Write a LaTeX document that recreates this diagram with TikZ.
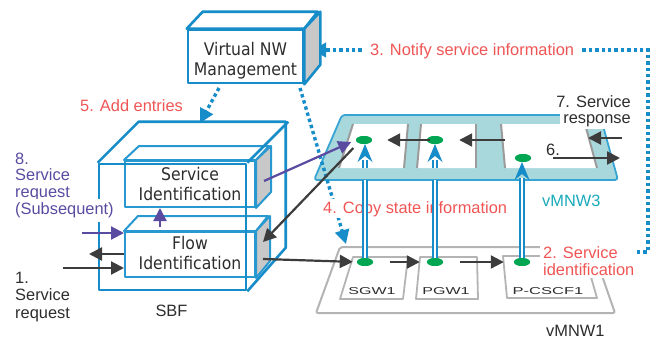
\documentclass[tikz,border=0pt]{standalone}
\usepackage{fontspec}
\setmainfont{Liberation Sans}
\newfontfamily\boxfont[FakeStretch=0.9]{DejaVu Sans}
\usetikzlibrary{arrows.meta,shapes.geometric}
\definecolor{bxblue}{RGB}{22,140,200}
\definecolor{inblue}{RGB}{40,152,208}
\definecolor{facegray}{RGB}{200,200,200}
\definecolor{platfill}{RGB}{168,216,220}
\definecolor{platedge}{RGB}{55,165,212}
\definecolor{wingray}{RGB}{155,155,155}
\definecolor{nwgray}{RGB}{180,180,180}
\definecolor{dotgreen}{RGB}{0,166,81}
\definecolor{arrdark}{RGB}{60,60,60}
\definecolor{purp}{RGB}{90,75,160}
\definecolor{redtxt}{RGB}{240,85,85}
\definecolor{cyantxt}{RGB}{25,170,185}
\definecolor{txtdark}{RGB}{45,45,45}
\begin{document}
\begin{tikzpicture}[x=1pt,y=-1pt,
 lbl/.style={font=\fontsize{16.4}{18}\selectfont, inner sep=1pt, text=txtdark},
 redlbl/.style={lbl, text=redtxt},
 purlbl/.style={lbl, text=purp},
 boxtxt/.style={font=\boxfont\fontsize{17.4}{20}\selectfont, text=txtdark, align=center, inner sep=0pt},
 boxline/.style={draw=bxblue, line width=2.6pt, line join=round},
 innerline/.style={draw=inblue, line width=2pt, line join=round},
 grayface/.style={fill=facegray},
 dotline/.style={draw=bxblue, line width=3.4pt, dash pattern=on 3.4pt off 3pt},
 dtip/.style={-{Triangle[length=14pt,width=14pt]}},
 darr/.style={draw=arrdark, line width=2.2pt, -{Triangle[length=13pt,width=13pt]}},
 parr/.style={draw=purp, line width=2.2pt, -{Triangle[length=13pt,width=13pt]}},
 dblline/.style={draw=bxblue, line width=1.5pt, double=white, double distance=2.2pt},
 uphead/.style={fill=bxblue},
 gdot/.style={ellipse, fill=dotgreen, minimum width=16pt, minimum height=8pt, inner sep=0pt},
 nwline/.style={draw=nwgray, line width=2pt, line join=round, rounded corners=2pt},
 nwwin/.style={draw=nwgray, line width=1.8pt, fill=white, line join=round},
 wside/.style={draw=wingray, line width=2pt},
 winlbl/.style={font=\fontsize{10}{12}\selectfont, text=txtdark, inner sep=0pt},
 plat/.style={fill=platfill, draw=platedge, line width=1.8pt, rounded corners=3pt, line join=round}
]
\useasboundingbox (0,0) rectangle (656,338);

% ---------- vMNW1 ----------
\draw[nwline] (340,247) -- (592,247) -- (615,313) -- (316,313) -- cycle;
\draw[nwwin] (353,257) -- (408,257) -- (403,299) -- (340,299) -- cycle;
\draw[nwwin] (420,257) -- (477,257) -- (478,299) -- (416,299) -- cycle;
\draw[nwwin] (503,256) -- (585,256) -- (597,298) -- (507,298) -- cycle;
\node[winlbl] (sgwl) at (372,291) {\scalebox{1.6}[1]{SGW1}};
\node[winlbl] (pgwl) at (446,291) {\scalebox{1.6}[1]{PGW1}};
\node[winlbl] (pcscfl) at (548,291) {\scalebox{1.65}[1]{P-CSCF1}};

% ---------- vMNW3 ----------
\draw[plat] (342,115) -- (600,115) -- (618,180) -- (314,180) -- cycle;
\fill[white] (353,124) -- (408,124) -- (404,168) -- (339,168) -- cycle;
\fill[white] (421,124) -- (476,124) -- (476,168) -- (417,168) -- cycle;
\fill[white] (501,124) -- (585,124) -- (597,168) -- (505,168) -- cycle;
\draw[wside] (353,124) -- (339,168);
\draw[wside] (408,124) -- (404,168);
\draw[wside] (421,124) -- (417,168);
\draw[wside] (476,124) -- (476,168);
\draw[wside] (501,124) -- (505,168);
\draw[wside] (585,124) -- (597,168);

% ---------- dotted control lines ----------
\coordinate (d5s) at (219,88);
\coordinate (d5e) at (200,123);
\coordinate (d4s) at (300,88);
\coordinate (d4e) at (346,244);
\coordinate (d3s) at (637,252);
\coordinate (d3c) at (648,252);
\coordinate (vnwR) at (312,50);
\draw[dotline, dtip] (d5s) -- (d5e);
\draw[dotline, dtip] (d4s) -- (d4e);
\draw[dotline, dtip] (d3s) -- (d3c) |- (vnwR);

% ---------- labels with white background ----------
\node[redlbl, fill=white, inner xsep=7pt, anchor=base west] (l3) at (363,55) {3. Notify service information};
\node[redlbl, fill=white, inner sep=2pt, anchor=base west] (l4) at (321,213) {4. Copy state information};
\node[redlbl, fill=white, inner sep=3pt, anchor=base west] (l2a) at (540,258) {2. Service};
\node[redlbl, fill=white, inner sep=3pt, anchor=base west] (l2b) at (540,275) {identification};
\node[lbl, fill=white, inner sep=3pt, anchor=base east] (l7a) at (634,107) {7. Service};
\node[lbl, fill=white, inner sep=3pt, anchor=base east] (l7b) at (634,123) {response};

% ---------- state copy (double lines) ----------
\coordinate (u1t) at (365,144); \coordinate (u1b) at (365,160);
\coordinate (u1w) at (365,168); \coordinate (u1p) at (365,180);
\coordinate (u2t) at (435,144); \coordinate (u2b) at (435,160);
\coordinate (u2w) at (435,168); \coordinate (u2p) at (435,180);
\coordinate (u3t) at (522,162); \coordinate (u3b) at (522,178);
\node[gdot] (g1) at (365,262) {};
\node[gdot] (g2) at (435,262) {};
\node[gdot] (g3) at (522,262) {};
\node[gdot] (h1) at (364,140) {};
\node[gdot] (h2) at (435,140) {};
\node[gdot] (h3) at (523,158) {};
\draw[dblline] (g1.center) -- (u1p);
\draw[dblline] (u1w) -- (u1b);
\draw[dblline] (g2.center) -- (u2p);
\draw[dblline] (u2w) -- (u2b);
\draw[dblline] (g3.center) -- (u3b);
\fill[uphead] (u1t) -- ++(7.5,18) -- ++(-7.5,-6) -- ++(-7.5,6) -- cycle;
\fill[uphead] (u2t) -- ++(7.5,18) -- ++(-7.5,-6) -- ++(-7.5,6) -- cycle;
\fill[uphead] (u3t) -- ++(7.5,18) -- ++(-7.5,-6) -- ++(-7.5,6) -- cycle;
\node[gdot] at (g1) {};
\node[gdot] at (g2) {};
\node[gdot] at (g3) {};
\node[gdot] at (h1) {};
\node[gdot] at (h2) {};
\node[gdot] at (h3) {};

% ---------- Virtual NW Management ----------
\node[boxline, fill=white, minimum width=115pt, minimum height=53pt, inner sep=0pt] (vnw) at (245.5,56.5) {};
\draw[boxline, fill=white] (vnw.north west) -- ++(16,-17) -- ++(115,0) -- (vnw.north east) -- cycle;
\draw[boxline, grayface] (vnw.north east) -- ++(16,-17) -- ++(0,53) -- (vnw.south east) -- cycle;
\node[boxtxt] (vnwt) at (245.5,60.5) {Virtual NW\\Management};

% ---------- SBF inner boxes ----------
\node[innerline, fill=white, minimum width=130pt, minimum height=46pt, inner sep=0pt] (servF) at (190,184) {};
\draw[innerline, fill=white] (servF.north west) -- ++(15,-14) -- ++(130,0) -- (servF.north east) -- cycle;
\draw[innerline, grayface] (servF.north east) -- ++(15,-14) -- ++(0,46) -- (servF.south east) -- cycle;
\node[innerline, fill=white, minimum width=130pt, minimum height=45pt, inner sep=0pt] (flowF) at (190,254.5) {};
\draw[innerline, fill=white] (flowF.north west) -- ++(14,-15) -- ++(130,0) -- (flowF.north east) -- cycle;
\draw[innerline, grayface] (flowF.north east) -- ++(14,-15) -- ++(0,45) -- (flowF.south east) -- cycle;

% ---------- SBF outer wireframe ----------
\node[boxline, minimum width=147pt, minimum height=126pt, inner sep=0pt] (sbf) at (172.5,227) {};
\draw[boxline] (sbf.north west) -- ++(41,-41) -- ++(147,0) -- ++(0,126) -- (sbf.south east);
\draw[boxline] (sbf.north east) -- ++(41,-41);

\node[boxtxt] (servt) at (190,183.6) {Service\\Identification};
\node[boxtxt] (flowt) at (190,253.4) {Flow\\Identification};

% ---------- left labels ----------
\node[purlbl, anchor=base west] (l8a) at (14,164) {8.};
\node[purlbl, anchor=base west] (l8b) at (14,180.8) {Service};
\node[purlbl, anchor=base west] (l8c) at (14,197.6) {request};
\node[purlbl, fill=white, inner ysep=4pt, anchor=base west] (l8d) at (14,214.4) {(Subsequent)};
\node[lbl, anchor=base west] (l1a) at (14,283) {1.};
\node[lbl, anchor=base west] (l1b) at (14,300.5) {Service};
\node[lbl, anchor=base west] (l1c) at (14,318) {request};
\node[lbl, anchor=base] (lsbf) at (171.5,316) {SBF};
\node[redlbl, anchor=base west] (l5) at (79,111) {5. Add entries};
\node[lbl, text=cyantxt, anchor=base west] (lv3) at (541,206) {vMNW3};
\node[lbl, anchor=base west] (lv1) at (545,336) {vMNW1};
\node[lbl, anchor=base west] (l6) at (545,155) {6.};

% ---------- message arrows ----------
\coordinate (in1) at (63,268);
\coordinate (out1) at (89,254);
\coordinate (in8) at (82,233);
\coordinate (fu) at (160,227);
\coordinate (sface) at (264,181);
\coordinate (fface1) at (263,242);
\coordinate (fface2) at (263,259);
\coordinate (w3a) at (505,140);
\coordinate (c6a) at (553,158);
\coordinate (c6b) at (620,158);
\coordinate (c7a) at (622,138);
\coordinate (c7b) at (588,138);
\draw[darr] (in1) -- (in1 -| flowF.west);
\draw[darr] (out1 -| flowF.west) -- (out1);
\draw[parr] (in8) -- (in8 -| flowF.west);
\draw[parr] (fu) -- (fu |- servF.south);
\draw[parr, shorten >=5pt] (sface) -- (h1.west);
\draw[darr, shorten <=7pt] (h1.south west) -- (fface1);
\draw[darr, shorten >=4pt] (fface2) -- (g1.west);
\draw[darr, shorten <=17pt, shorten >=7pt] (g1.east) -- (g2.west);
\draw[darr, shorten <=17pt, shorten >=10pt] (g2.east) -- (g3.west);
\draw[darr, shorten >=16pt] (w3a) -- (h2.east);
\draw[darr, shorten <=-3pt, shorten >=15pt] (h2.west) -- (h1.east);
\draw[darr] (c6a) -- (c6b);
\draw[darr] (c7a) -- (c7b);
\end{tikzpicture}
\end{document}
